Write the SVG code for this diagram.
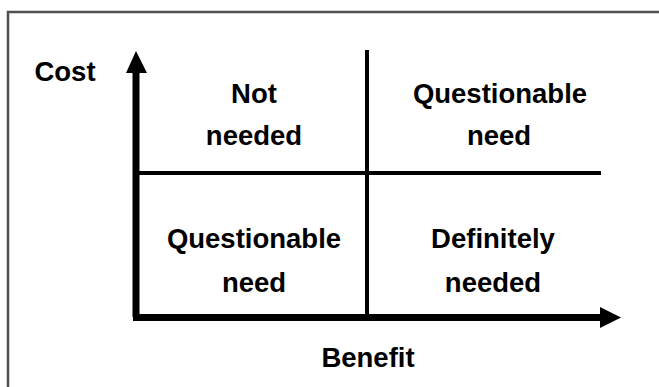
<svg xmlns="http://www.w3.org/2000/svg" width="659" height="387" viewBox="0 0 659 387">
<style>
.t{font-family:"Liberation Sans",Arial,sans-serif;font-weight:bold;font-size:27.5px;fill:#000;text-anchor:middle}
.ax{stroke:#000;stroke-width:7;fill:none}
.grid{stroke:#000;stroke-width:4;fill:none}
</style>
<rect width="659" height="387" fill="#fff"/>
<path d="M8,387 V12 H659" fill="none" stroke="#505050" stroke-width="2.5"/>
<g id="connectors">
<line class="grid" x1="367" y1="50" x2="367" y2="317"/>
<line class="grid" x1="137" y1="173" x2="601" y2="173"/>
<line class="ax" x1="136" y1="70" x2="136" y2="317"/>
<line class="ax" x1="133" y1="317.5" x2="602" y2="317.5"/>
<polygon points="136,51 126,73 147,73" fill="#000"/>
<polygon points="621,317.5 600,307 600,328" fill="#000"/>
</g>
<g id="cost"><text class="t" x="65" y="81">Cost</text></g>
<g id="benefit"><text class="t" x="368" y="367">Benefit</text></g>
<g id="q1"><text class="t" x="254" y="103">Not</text><text class="t" x="254" y="145">needed</text></g>
<g id="q2"><text class="t" x="500" y="103">Questionable</text><text class="t" x="499" y="145">need</text></g>
<g id="q3"><text class="t" x="254" y="248">Questionable</text><text class="t" x="254" y="292">need</text></g>
<g id="q4"><text class="t" x="493" y="248">Definitely</text><text class="t" x="493" y="292">needed</text></g>
</svg>
